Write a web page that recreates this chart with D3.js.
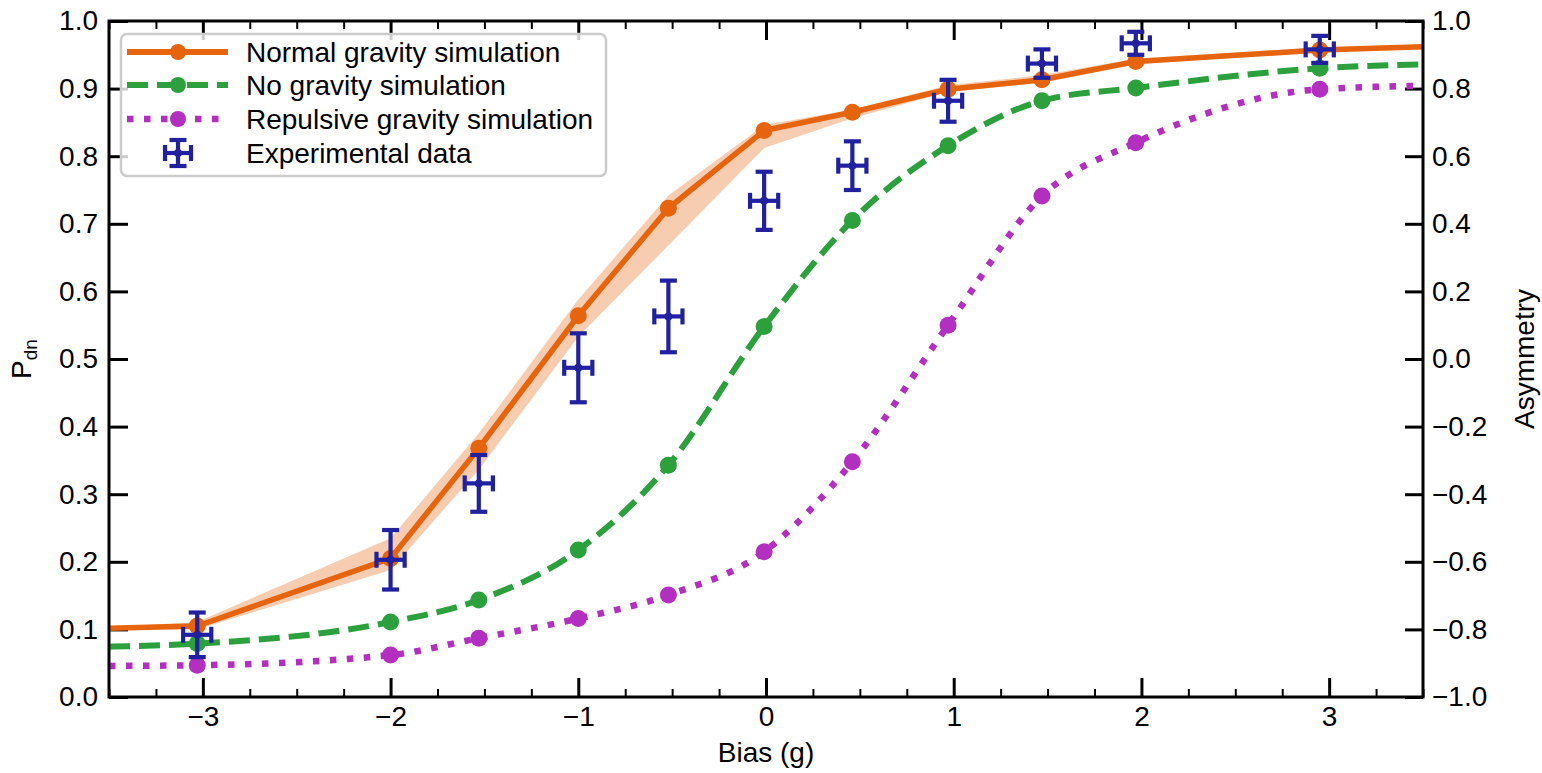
<!DOCTYPE html>
<html>
<head>
<meta charset="utf-8">
<script src="https://cdn.jsdelivr.net/npm/d3@7"></script>
<style>
  html, body { margin: 0; padding: 0; background: #fff; }
  svg { display: block; font-family: "Liberation Sans", Arial, sans-serif; }
</style>
</head>
<body>
<svg id="chart" width="1542" height="773"></svg>
<script>
// ---------------- data ----------------
const simX = [-3.5, -3.03, -2.0, -1.53, -1.0, -0.52, -0.01, 0.46, 0.97, 1.47, 1.97, 2.95, 3.5];
const markerIdx = [1, 2, 3, 4, 5, 6, 7, 8, 9, 10, 11];
const normalP = [0.1016, 0.105, 0.205, 0.368, 0.564, 0.723, 0.838, 0.865, 0.899, 0.913, 0.940, 0.957, 0.962];
const normalLow = [0.100, 0.100, 0.188, 0.336, 0.533, 0.668, 0.812, 0.856, 0.895, 0.909, 0.936, 0.954, 0.959];
const normalHigh = [0.103, 0.111, 0.235, 0.390, 0.588, 0.742, 0.846, 0.869, 0.905, 0.920, 0.944, 0.961, 0.965];
const noGravP = [0.0745, 0.079, 0.111, 0.1435, 0.2175, 0.343, 0.548, 0.705, 0.8156, 0.882, 0.901, 0.930, 0.936];
const repulsiveP = [0.046, 0.047, 0.062, 0.087, 0.116, 0.151, 0.215, 0.348, 0.550, 0.741, 0.820, 0.899, 0.904];

const expX = [-3.03, -2.0, -1.53, -1.0, -0.52, -0.01, 0.46, 0.97, 1.47, 1.97, 2.95];
const expY = [0.092, 0.203, 0.316, 0.487, 0.563, 0.734, 0.786, 0.882, 0.937, 0.967, 0.958];
const expYerr = [0.033, 0.044, 0.042, 0.051, 0.053, 0.043, 0.036, 0.031, 0.021, 0.017, 0.020];
const expXerr = [0.075, 0.075, 0.075, 0.075, 0.075, 0.075, 0.075, 0.075, 0.075, 0.075, 0.075];

const xMajor = [-3, -2, -1, 0, 1, 2, 3];
const xMinor = d3.range(-3.5, 3.5001, 0.25).filter(v => Math.abs(v - Math.round(v)) > 1e-6);
const yLeftTicks = d3.range(0, 1.0001, 0.1);
const yRightTicks = d3.range(-1, 1.0001, 0.2);

const legendLabels = ["Normal gravity simulation", "No gravity simulation", "Repulsive gravity simulation", "Experimental data"];

// ---------------- style ----------------
const C_ORANGE = "#e6640e", C_GREEN = "#2ca03c", C_PURPLE = "#b32fbf", C_NAVY = "#2121a0";
const FS = 28;
const GREEN_DASH = "21,9", PURPLE_DASH = "6.5,10.5";

const svg = d3.select("#chart");
const L = 109, R = 1423, T = 21, B = 697;
const x = d3.scaleLinear().domain([-3.5, 3.5]).range([L, R]);
const y = d3.scaleLinear().domain([0, 1]).range([B, T]);
const yR = d3.scaleLinear().domain([-1, 1]).range([B, T]);

svg.append("defs").append("clipPath").attr("id", "clip")
  .append("rect").attr("x", L).attr("y", T).attr("width", R - L).attr("height", B - T);

// ---------------- axes ----------------
function styleAxis(g, w) {
  g.select(".domain").remove();
  g.selectAll(".tick line").attr("stroke", "#000").attr("stroke-width", w);
  g.selectAll(".tick text").attr("font-size", FS).attr("fill", "#000").attr("font-family", "Liberation Sans, Arial, sans-serif");
}
const fmtX = d3.format("d"), fmtY = d3.format(".1f");

svg.append("g").attr("transform", `translate(0,${B})`)
  .call(d3.axisBottom(x).tickValues(xMajor).tickSize(-19).tickPadding(9).tickFormat(fmtX))
  .call(g => styleAxis(g, 3));
svg.append("g").attr("transform", `translate(0,${B})`)
  .call(d3.axisBottom(x).tickValues(xMinor).tickSize(-8).tickFormat(""))
  .call(g => styleAxis(g, 2));
svg.append("g").attr("transform", `translate(0,${T})`)
  .call(d3.axisTop(x).tickValues(xMajor).tickSize(-19).tickFormat(""))
  .call(g => styleAxis(g, 3));
svg.append("g").attr("transform", `translate(0,${T})`)
  .call(d3.axisTop(x).tickValues(xMinor).tickSize(-8).tickFormat(""))
  .call(g => styleAxis(g, 2));
svg.append("g").attr("transform", `translate(${L},0)`)
  .call(d3.axisLeft(y).tickValues(yLeftTicks).tickSize(-19).tickPadding(11).tickFormat(fmtY))
  .call(g => styleAxis(g, 3));
svg.append("g").attr("transform", `translate(${R},0)`)
  .call(d3.axisRight(yR).tickValues(yRightTicks).tickSize(-18).tickPadding(9).tickFormat(fmtY))
  .call(g => styleAxis(g, 3));

// ---------------- plot ----------------
const plot = svg.append("g").attr("clip-path", "url(#clip)");

const band = d3.area().x((d, i) => x(simX[i])).y0((d, i) => y(normalLow[i])).y1((d, i) => y(normalHigh[i]));
plot.append("path").datum(simX).attr("d", band).attr("fill", C_ORANGE).attr("fill-opacity", 0.32).attr("stroke", "none");

function series(vals, color, curve, dash, width) {
  const line = d3.line().x((d, i) => x(simX[i])).y(d => y(d)).curve(curve);
  plot.append("path").datum(vals).attr("d", line)
    .attr("fill", "none").attr("stroke", color).attr("stroke-width", width)
    .attr("stroke-dasharray", dash).attr("stroke-linecap", "butt").attr("stroke-linejoin", "round");
  plot.selectAll(null).data(markerIdx).enter().append("circle")
    .attr("cx", i => x(simX[i])).attr("cy", i => y(vals[i])).attr("r", 8.5).attr("fill", color);
}
series(normalP, C_ORANGE, d3.curveLinear, null, 5.5);
series(noGravP, C_GREEN, d3.curveMonotoneX, GREEN_DASH, 6);
series(repulsiveP, C_PURPLE, d3.curveMonotoneX, PURPLE_DASH, 6.5);

// experimental error bars
function errBar(g, cx, cy, hx, hy) {
  g.append("line").attr("x1", cx).attr("x2", cx).attr("y1", cy - hy).attr("y2", cy + hy);
  g.append("line").attr("x1", cx - hx).attr("x2", cx + hx).attr("y1", cy).attr("y2", cy);
  g.append("line").attr("x1", cx - 8.5).attr("x2", cx + 8.5).attr("y1", cy - hy).attr("y2", cy - hy);
  g.append("line").attr("x1", cx - 8.5).attr("x2", cx + 8.5).attr("y1", cy + hy).attr("y2", cy + hy);
  g.append("line").attr("x1", cx - hx).attr("x2", cx - hx).attr("y1", cy - 8).attr("y2", cy + 8);
  g.append("line").attr("x1", cx + hx).attr("x2", cx + hx).attr("y1", cy - 8).attr("y2", cy + 8);
  g.append("circle").attr("cx", cx).attr("cy", cy).attr("r", 4).attr("fill", C_NAVY).attr("stroke", "none");
}
const expG = svg.append("g").attr("stroke", C_NAVY).attr("stroke-width", 4.2).attr("fill", "none");
expX.forEach((ex, i) => {
  const g = expG.append("g");
  const cx = x(ex), cy = y(expY[i]);
  errBar(g, cx, cy, x(ex + expXerr[i]) - cx, cy - y(expY[i] + expYerr[i]));
});

// spines
svg.append("rect").attr("x", L).attr("y", T).attr("width", R - L).attr("height", B - T)
  .attr("fill", "none").attr("stroke", "#000").attr("stroke-width", 3);

// ---------------- legend ----------------
const lg = svg.append("g");
lg.append("rect").attr("x", 121).attr("y", 34).attr("width", 485).attr("height", 142).attr("rx", 6)
  .attr("fill", "#fff").attr("fill-opacity", 0.8).attr("stroke", "#cccccc").attr("stroke-width", 2.5);
const rowY = [52, 85, 119, 153];
const lgStyles = [
  { c: C_ORANGE, dash: null, w: 6 },
  { c: C_GREEN, dash: GREEN_DASH, w: 6 },
  { c: C_PURPLE, dash: PURPLE_DASH, w: 6.5 }
];
lgStyles.forEach((s, i) => {
  lg.append("line").attr("x1", 127).attr("x2", 228).attr("y1", rowY[i]).attr("y2", rowY[i])
    .attr("stroke", s.c).attr("stroke-width", s.w).attr("stroke-dasharray", s.dash);
  lg.append("circle").attr("cx", 178).attr("cy", rowY[i]).attr("r", 8).attr("fill", s.c);
});
const lgE = lg.append("g").attr("stroke", C_NAVY).attr("stroke-width", 4.2).attr("fill", "none");
errBar(lgE, 178, rowY[3], 13, 13);
legendLabels.forEach((t, i) => {
  lg.append("text").attr("x", 246).attr("y", rowY[i]).attr("dy", "0.35em")
    .attr("font-size", FS).attr("fill", "#000").text(t);
});

// ---------------- axis labels ----------------
svg.append("text").attr("x", (L + R) / 2).attr("y", 762).attr("text-anchor", "middle")
  .attr("font-size", FS).text("Bias (g)");
const yl = svg.append("text").attr("transform", `translate(31,${(T + B) / 2}) rotate(-90)`)
  .attr("text-anchor", "middle").attr("font-size", FS);
yl.append("tspan").text("P");
yl.append("tspan").attr("font-size", 19).attr("dy", 6).text("dn");
svg.append("text").attr("transform", `translate(1534,${(T + B) / 2}) rotate(-90)`)
  .attr("text-anchor", "middle").attr("font-size", FS).text("Asymmetry");
</script>
</body>
</html>
